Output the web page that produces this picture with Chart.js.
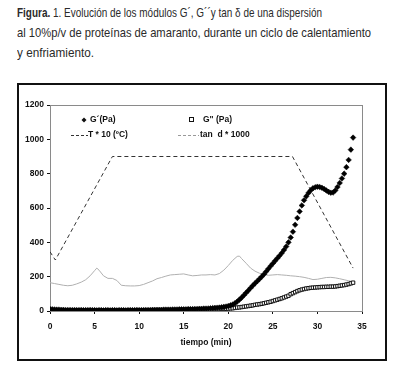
<!DOCTYPE html>
<html>
<head>
<meta charset="utf-8">
<script src="https://cdn.jsdelivr.net/npm/chart.js@4.4.1/dist/chart.umd.min.js"></script>
<style>
  html, body { margin: 0; padding: 0; background: #fff; width: 406px; height: 375px; overflow: hidden; }
  #title { position: absolute; left: 17px; top: 3px; font-family: "Liberation Sans", Arial, sans-serif; font-size: 13px; line-height: 20px; color: #2a2a2a; }
  #title .ln { display: block; white-space: nowrap; }
  #title .ln span { display: inline-block; transform-origin: 0 50%; }
  #frame { position: absolute; left: 17px; top: 83px; width: 366px; height: 274px; border: 2px solid #111; }
  #wrap { position: absolute; left: 0; top: 0; width: 406px; height: 375px; }
</style>
</head>
<body>
<div id="title">
  <div class="ln"><span data-w="305"><b>Figura.</b> 1. Evolución de los módulos G´, G´´y tan δ de una dispersión</span></div>
  <div class="ln"><span data-w="354">al 10%p/v de proteínas de amaranto, durante un ciclo de calentamiento</span></div>
  <div class="ln"><span data-w="77">y enfriamiento.</span></div>
</div>
<div id="frame"></div>
<div id="wrap"><canvas id="c" width="406" height="375"></canvas></div>
<script>
// ---- data ----
const xTicks = [0, 5, 10, 15, 20, 25, 30, 35];
const yTicks = [0, 200, 400, 600, 800, 1000, 1200];

const timeMin = [
  0,0.25,0.5,0.75, 1,1.25,1.5,1.75, 2,2.25,2.5,2.75, 3,3.25,3.5,3.75,
  4,4.25,4.5,4.75, 5,5.25,5.5,5.75, 6,6.25,6.5,6.75, 7,7.25,7.5,7.75,
  8,8.25,8.5,8.75, 9,9.25,9.5,9.75, 10,10.25,10.5,10.75, 11,11.25,11.5,11.75,
  12,12.25,12.5,12.75, 13,13.25,13.5,13.75, 14,14.25,14.5,14.75, 15,15.25,15.5,15.75,
  16,16.25,16.5,16.75, 17,17.25,17.5,17.75, 18,18.25,18.5,18.75, 19,19.25,19.5,19.75,
  20,20.25,20.5,20.75, 21,21.25,21.5,21.75, 22,22.25,22.5,22.75, 23,23.25,23.5,23.75,
  24,24.25,24.5,24.75, 25,25.25,25.5,25.75, 26,26.25,26.5,26.75, 27,27.25,27.5,27.75,
  28,28.25,28.5,28.75, 29,29.25,29.5,29.75, 30,30.25,30.5,30.75, 31,31.25,31.5,31.75,
  32,32.25,32.5,32.75, 33,33.25,33.5,33.75, 34
];

const gPrime = [
  12,10,9,8, 8,7,7,6, 6,6,5,6, 5,5,6,5,
  5,5,6,5, 5,4,5,5, 4,5,5,4, 5,5,4,5,
  5,5,4,5, 5,5,5,6, 5,5,6,6, 6,6,7,7,
  7,7,7,8, 8,8,8,9, 9,9,10,10, 10,10,11,11,
  11,12,12,13, 13,14,14,15, 16,17,18,19, 20,22,24,26,
  29,33,38,45, 55,66,78,92, 106,120,134,148, 161,174,187,200,
  214,230,246,262, 277,292,307,322, 338,356,376,400, 428,462,502,542,
  580,615,645,668, 688,703,715,721, 724,722,718,711, 702,694,689,690,
  702,722,746,772, 800,838,880,940, 1010
];

const gDoublePrime = [
  4,3,3,3, 3,3,2,3, 3,2,3,3, 2,3,3,2,
  3,3,2,3, 3,3,2,3, 3,2,3,3, 3,3,3,2,
  3,3,3,3, 3,3,3,4, 4,3,4,4, 4,4,4,4,
  4,5,5,5, 5,5,5,5, 6,6,6,6, 6,7,7,7,
  7,7,8,8, 8,8,9,9, 9,10,10,11, 11,12,12,13,
  14,15,16,18, 20,21,23,25, 27,29,31,33, 36,38,40,42,
  45,48,51,54, 58,62,66,70, 74,79,84,89, 98,104,110,116,
  121,125,128,131, 133,135,136,137, 138,139,140,140, 141,141,142,142,
  143,145,147,149, 151,154,157,161, 165
];

const tempTime = [0, 0.6, 7.0, 27.2, 34.0];
const tempX10  = [345, 297, 900, 900, 250];

const tanTime = [
  0,0.5,1,1.5,2,2.5,3,3.5,4,4.5,5,5.25,5.5,6,6.5,7,7.5,8,8.5,9,9.5,10,
  10.5,11,11.5,12,12.5,13,13.5,14,14.5,15,15.5,16,16.5,17,17.5,18,18.5,19,19.5,
  20,20.5,21,21.25,21.5,22,22.5,23,23.5,24,24.5,25,25.5,26,26.5,27,27.5,28,28.5,
  29,29.5,30,30.5,31,31.5,32,32.5,33,33.5,34
];
const tanX1000 = [
  165,160,155,150,147,150,158,168,182,205,235,250,238,205,190,190,178,150,147,146,146,148,
  155,165,175,188,195,203,210,212,214,216,210,205,207,210,210,212,210,218,238,
  265,295,318,320,305,278,250,232,220,212,208,210,212,210,208,205,203,200,196,
  190,183,185,190,195,196,193,188,182,176,171
];

const labels = ["G´(Pa)", "G\" (Pa)", "T * 10 (ºC)", "tan  d * 1000"];

// fit each title line to the width it has in the reference
document.querySelectorAll('#title .ln span').forEach(el => {
  const w = el.getBoundingClientRect().width;
  const target = parseFloat(el.dataset.w);
  el.style.transform = 'scaleX(' + (target / w) + ')';
});

function pts(xs, ys) { return xs.map((x, i) => ({ x: x, y: ys[i] })); }

const FONT = "'Liberation Sans', Arial, sans-serif";

const framePlugin = {
  id: 'framePlugin',
  beforeDatasetsDraw(chart) {
    const { ctx, chartArea: a } = chart;
    ctx.save();
    ctx.strokeStyle = '#8a8a8a';
    ctx.lineWidth = 1;
    ctx.strokeRect(Math.round(a.left) + 0.5, Math.round(a.top) + 0.5, Math.round(a.right - a.left), Math.round(a.bottom - a.top));
    ctx.restore();
  },
  afterDraw(chart) {
    const { ctx, chartArea: a } = chart;
    const ds = chart.data.datasets;
    ctx.save();
    ctx.font = "bold 8.5px " + FONT;
    ctx.fillStyle = '#111';
    ctx.textBaseline = 'middle';
    const r1 = a.top + 15, r2 = a.top + 30;
    // G'
    ctx.beginPath();
    const mx = a.left + 34;
    ctx.moveTo(mx, r1 - 2.5); ctx.lineTo(mx + 2.5, r1); ctx.lineTo(mx, r1 + 2.5); ctx.lineTo(mx - 2.5, r1); ctx.closePath();
    ctx.fill();
    ctx.fillText(ds[0].label, a.left + 40, r1);
    // G''
    ctx.strokeStyle = '#111'; ctx.lineWidth = 1;
    ctx.strokeRect(a.left + 139.5, r1 - 2.5, 4, 4);
    ctx.fillText(ds[1].label, a.left + 153, r1);
    // T
    ctx.setLineDash([3, 2]);
    ctx.strokeStyle = '#333';
    ctx.beginPath(); ctx.moveTo(a.left + 21, r2 + 0.5); ctx.lineTo(a.left + 38, r2 + 0.5); ctx.stroke();
    ctx.fillText(ds[2].label, a.left + 38, r2);
    // tan
    ctx.strokeStyle = '#999';
    ctx.beginPath(); ctx.moveTo(a.left + 128, r2 + 0.5); ctx.lineTo(a.left + 149, r2 + 0.5); ctx.stroke();
    ctx.fillText(ds[3].label, a.left + 150, r2);
    ctx.restore();
  }
};

new Chart(document.getElementById('c'), {
  type: 'scatter',
  data: {
    datasets: [
      { label: labels[0], data: pts(timeMin, gPrime), pointStyle: 'rectRot', pointRadius: 2.8, pointBackgroundColor: '#000', pointBorderColor: '#000', pointBorderWidth: 0.5, showLine: false, order: 1 },
      { label: labels[1], data: pts(timeMin, gDoublePrime), pointStyle: 'rect', pointRadius: 2.4, pointBackgroundColor: '#fff', pointBorderColor: '#111', pointBorderWidth: 1, showLine: false, order: 2 },
      { label: labels[2], data: pts(tempTime, tempX10), showLine: true, borderColor: '#333', borderWidth: 1, borderDash: [4, 3], pointRadius: 0, tension: 0, order: 3 },
      { label: labels[3], data: pts(tanTime, tanX1000), showLine: true, borderColor: '#b0b0b0', borderWidth: 1, pointRadius: 0, tension: 0, order: 4 }
    ]
  },
  options: {
    responsive: false,
    animation: false,
    layout: { padding: { left: 0, right: 44, top: 105, bottom: 27 } },
    plugins: { legend: { display: false }, tooltip: { enabled: false } },
    scales: {
      x: {
        type: 'linear', min: 0, max: 35,
        afterBuildTicks: s => { s.ticks = xTicks.map(v => ({ value: v })); },
        afterFit: s => { s.height = 37; },
        grid: { display: true, drawOnChartArea: false, drawTicks: true, tickLength: 3, color: '#111' },
        border: { color: '#111', width: 1 },
        ticks: { font: { family: FONT, size: 8.5, weight: 'bold' }, color: '#111', padding: 8, maxRotation: 0, callback: v => String(v) },
        title: { display: true, text: 'tiempo (min)', font: { family: FONT, size: 8.5, weight: 'bold' }, color: '#111', padding: { top: 4, bottom: 0 } }
      },
      y: {
        type: 'linear', min: 0, max: 1200,
        afterBuildTicks: s => { s.ticks = yTicks.map(v => ({ value: v })); },
        afterFit: s => { s.width = 50; },
        grid: { display: true, drawOnChartArea: false, drawTicks: true, tickLength: 3, color: '#111' },
        border: { color: '#111', width: 1 },
        ticks: { font: { family: FONT, size: 8.5, weight: 'bold' }, color: '#111', padding: 3, callback: v => String(v) }
      }
    }
  },
  plugins: [framePlugin]
});
</script>
</body>
</html>
